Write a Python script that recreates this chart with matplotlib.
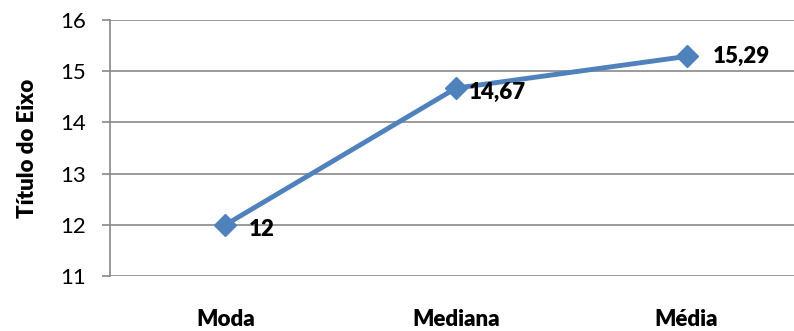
import matplotlib.pyplot as plt

plt.rcParams['font.family'] = ['Lato', 'DejaVu Sans']

categorias = ['Moda', 'Mediana', 'Média']
valores = [12, 14.67, 15.29]
rotulos = ['12', '14,67', '15,29']
deslocamentos = [(17, -3), (9, -3), (19, 0)]

fig = plt.figure(figsize=(7.94, 3.31), dpi=100)
ax = fig.add_axes([0.1385, 0.166, 0.8715, 0.7734])

x = list(range(len(categorias)))
ax.plot(x, valores, color='#4F81BD', lw=3.5, marker='D', ms=11, zorder=3)

for xi, v, r, d in zip(x, valores, rotulos, deslocamentos):
    ax.annotate(r, (xi, v), xytext=d, textcoords='offset points',
                ha='left', va='center', fontsize=16, fontweight='heavy')

ax.set_xlim(-0.5, 2.5)
ax.set_ylim(11, 16)
ax.set_yticks(range(11, 17))
ax.set_xticks(x)
ax.set_xticklabels(categorias, fontsize=16, fontweight='heavy')
ax.tick_params(axis='x', length=0, pad=24)
ax.tick_params(axis='y', length=6, width=1.2, color='#898989', labelsize=16, pad=11)
ax.grid(axis='y', color='#898989', lw=1.2)
ax.set_axisbelow(True)
for s in ['top', 'right', 'bottom']:
    ax.spines[s].set_visible(False)
ax.spines['left'].set_color('#898989')
ax.spines['left'].set_linewidth(1.2)
ax.set_ylabel('Título do Eixo', fontsize=16, fontweight='heavy', labelpad=16)

fig.savefig('out.png', dpi=100)
